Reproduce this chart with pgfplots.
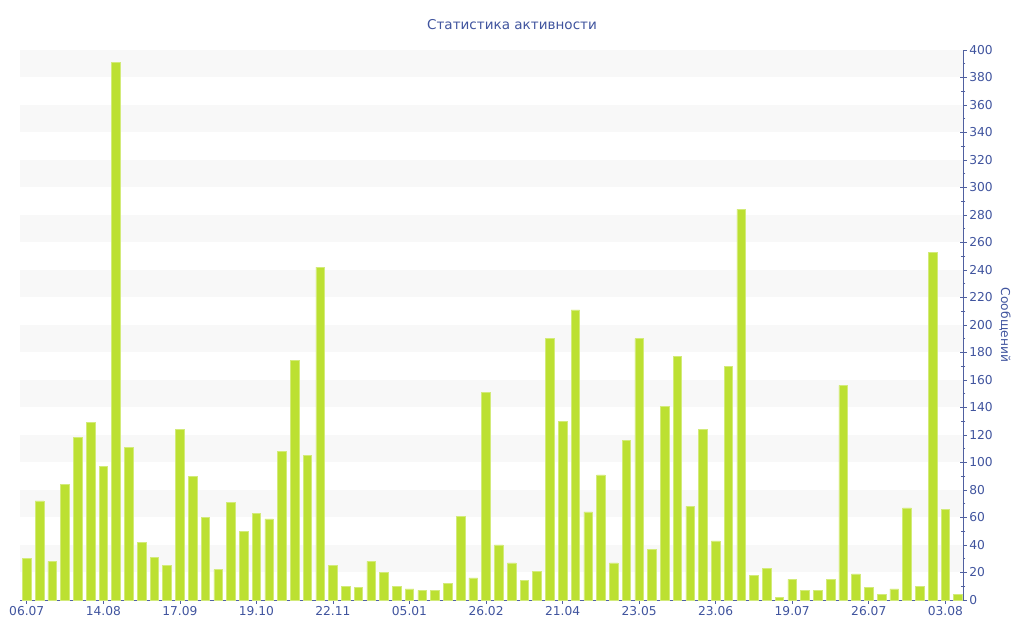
\documentclass[border=0pt]{standalone}
\usepackage{pgfplots}
\pgfplotsset{compat=1.18}
\usepackage{fontspec}
\setmainfont{DejaVu Sans}
\definecolor{barcol}{RGB}{188,224,50}
\definecolor{txtcol}{RGB}{64,84,158}
\definecolor{axcol}{RGB}{80,96,160}
\definecolor{bandcol}{RGB}{248,248,248}
\begin{document}
\begin{tikzpicture}
\path[use as bounding box] (-20bp,-40bp) rectangle (1004bp,600bp);
\begin{axis}[
  at={(0,0)}, anchor=origin,
  scale only axis,
  width=943.3bp, height=550bp,
  xmin=0.47, xmax=74.41,
  ymin=0, ymax=400,
  axis x line*=bottom,
  axis y line*=right,
  axis line style={axcol, line width=0.8bp},
  xtick={1,7,13,19,25,31,37,43,49,55,61,67,73},
  xticklabels={06.07,14.08,17.09,19.10,22.11,05.01,26.02,21.04,23.05,23.06,19.07,26.07,03.08},
  ytick={0,20,...,400},
  minor y tick num=1,
  tick style={axcol, line width=0.6bp},
  tick align=center,
  major tick length=7bp,
  minor tick length=4bp,
  ticklabel style={font=\fontsize{12.3}{14}\selectfont, text=txtcol},
  /pgf/number format/assume math mode=true,
  xticklabel style={yshift=1bp},
  yticklabel style={xshift=-1bp},
  clip=false,
]
\fill[bandcol] (axis cs:0.47,20) rectangle (axis cs:74.41,40);
\fill[bandcol] (axis cs:0.47,60) rectangle (axis cs:74.41,80);
\fill[bandcol] (axis cs:0.47,100) rectangle (axis cs:74.41,120);
\fill[bandcol] (axis cs:0.47,140) rectangle (axis cs:74.41,160);
\fill[bandcol] (axis cs:0.47,180) rectangle (axis cs:74.41,200);
\fill[bandcol] (axis cs:0.47,220) rectangle (axis cs:74.41,240);
\fill[bandcol] (axis cs:0.47,260) rectangle (axis cs:74.41,280);
\fill[bandcol] (axis cs:0.47,300) rectangle (axis cs:74.41,320);
\fill[bandcol] (axis cs:0.47,340) rectangle (axis cs:74.41,360);
\fill[bandcol] (axis cs:0.47,380) rectangle (axis cs:74.41,400);
\addplot[ybar, bar width=8.6bp, fill=barcol, draw=barcol!65!white, line width=0.6bp] coordinates {
(1,30) (2,72) (3,28) (4,84) (5,118) (6,129) (7,97) (8,391) (9,111) (10,42)
(11,31) (12,25) (13,124) (14,90) (15,60) (16,22) (17,71) (18,50) (19,63) (20,59)
(21,108) (22,174) (23,105) (24,242) (25,25) (26,10) (27,9) (28,28) (29,20) (30,10)
(31,8) (32,7) (33,7) (34,12) (35,61) (36,16) (37,151) (38,40) (39,27) (40,14)
(41,21) (42,190) (43,130) (44,211) (45,64) (46,91) (47,27) (48,116) (49,190) (50,37)
(51,141) (52,177) (53,68) (54,124) (55,43) (56,170) (57,284) (58,18) (59,23) (60,2)
(61,15) (62,7) (63,7) (64,15) (65,156) (66,19) (67,9) (68,4) (69,8) (70,67)
(71,10) (72,253) (73,66) (74,4)
};
\end{axis}
\node[text=txtcol, font=\fontsize{13.6}{16}\selectfont] at (492bp,575bp) {Статистика активности};
\node[text=txtcol, font=\fontsize{12.3}{14}\selectfont, rotate=-90] at (985bp,275bp) {Сообщений};
\end{tikzpicture}
\end{document}
